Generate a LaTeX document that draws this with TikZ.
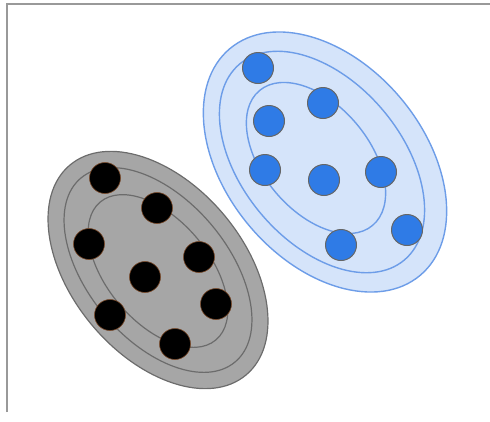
\documentclass[tikz,border=0pt]{standalone}
\usepackage{tikz}
\usetikzlibrary{shapes.geometric}
\definecolor{clgray}{HTML}{A6A6A6}
\definecolor{clgrayline}{HTML}{6C6C6C}
\definecolor{clblue}{HTML}{D5E4FA}
\definecolor{clblueline}{HTML}{6D9DE8}
\definecolor{dotblue}{HTML}{2F7BE6}
\definecolor{dotrim}{HTML}{7A4A2A}

\begin{document}
\begin{tikzpicture}[
  x=1pt,y=-1pt,
  ring/.style={ellipse,draw,rotate=-50,inner sep=0pt},
  grayring/.style={ring,draw=clgrayline,line width=1.2pt},
  bluering/.style={ring,draw=clblueline,line width=1.4pt},
  bdot/.style={circle,minimum size=31pt,inner sep=0pt,fill=black,draw=dotrim,line width=.6pt},
  udot/.style={circle,minimum size=31pt,inner sep=0pt,fill=dotblue,draw=black!60,line width=1pt}]
\useasboundingbox (0,0) rectangle (490,421);
\draw[black!40,line width=1.5pt] (7,412) -- (7,4) -- (490,4);
% gray cluster
\node[grayring,fill=clgray,minimum width=274pt,minimum height=172pt] (gout) at (158,270) {};
\node[grayring,minimum width=240pt,minimum height=140pt] (gmid) at (158,270) {};
\node[grayring,minimum width=180pt,minimum height=102pt] (gin) at (158,271) {};
% blue cluster
\node[bluering,fill=clblue,minimum width=296pt,minimum height=198pt] (uout) at (325,162) {};
\node[bluering,minimum width=256pt,minimum height=160pt] (umid) at (322,162) {};
\node[bluering,minimum width=176pt,minimum height=106pt] (uin) at (316,158) {};
% black dots
\node[bdot] (b1) at (105,178) {}; \node[bdot] (b2) at (157,208) {};
\node[bdot] (b3) at (89,244) {};  \node[bdot] (b4) at (199,257) {};
\node[bdot] (b5) at (145,277) {}; \node[bdot] (b6) at (216,304) {};
\node[bdot] (b7) at (110,315) {}; \node[bdot] (b8) at (175,344) {};
% blue dots
\node[udot] (u1) at (258,68) {};  \node[udot] (u2) at (323,103) {};
\node[udot] (u3) at (269,121) {}; \node[udot] (u4) at (265,170) {};
\node[udot] (u5) at (324,180) {}; \node[udot] (u6) at (381,172) {};
\node[udot] (u7) at (407,230) {}; \node[udot] (u8) at (341,245) {};
\end{tikzpicture}
\end{document}
